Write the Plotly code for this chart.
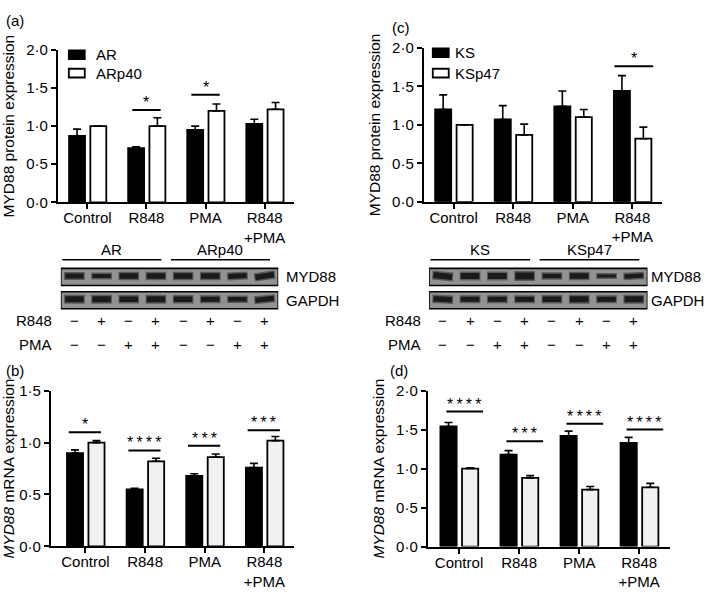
import plotly.graph_objects as go

W, H = 709, 599
FONT = "Liberation Sans, Arial, Helvetica, sans-serif"
FS = 15

# ---------------- data ----------------
categories = ["Control", "R848", "PMA", "R848<br>+PMA"]

# (a) MYD88 protein, AR vs ARp40
a_names = ["AR", "ARp40"]
a_dark = [0.87, 0.71, 0.95, 1.03]
a_dark_err = [0.09, 0.02, 0.05, 0.06]
a_light = [1.00, 1.00, 1.20, 1.22]
a_light_err = [0.00, 0.11, 0.09, 0.09]
a_sig = ["", "*", "*", ""]
a_sig_y = [None, 1.21, 1.41, None]

# (c) MYD88 protein, KS vs KSp47
c_names = ["KS", "KSp47"]
c_dark = [1.20, 1.07, 1.24, 1.44]
c_dark_err = [0.19, 0.18, 0.20, 0.20]
c_light = [1.00, 0.87, 1.10, 0.82]
c_light_err = [0.00, 0.14, 0.10, 0.15]
c_sig = ["", "", "", "*"]
c_sig_y = [None, None, None, 1.76]

# (b) MYD88 mRNA, AR vs ARp40
b_dark = [0.90, 0.55, 0.68, 0.76]
b_dark_err = [0.03, 0.01, 0.02, 0.04]
b_light = [1.00, 0.82, 0.86, 1.02]
b_light_err = [0.02, 0.03, 0.03, 0.04]
b_sig = ["*", "****", "***", "***"]
b_sig_y = [1.10, 0.925, 0.97, 1.12]

# (d) MYD88 mRNA, KS vs KSp47
d_dark = [1.54, 1.18, 1.42, 1.33]
d_dark_err = [0.05, 0.05, 0.06, 0.07]
d_light = [1.00, 0.88, 0.73, 0.76]
d_light_err = [0.01, 0.03, 0.04, 0.05]
d_sig = ["****", "***", "****", "****"]
d_sig_y = [1.73, 1.35, 1.575, 1.50]

protein_ticks = [0, 0.5, 1.0, 1.5, 2.0]
mrna_ticks_b = [0, 0.5, 1.0, 1.5]
mrna_ticks_d = [0, 0.5, 1.0, 1.5, 2.0]

# western blots (8 lanes)
lanes = [1, 2, 3, 4, 5, 6, 7, 8]
r848_signs = ["−", "+", "−", "+", "−", "+", "−", "+"]
pma_signs = ["−", "−", "+", "+", "−", "−", "+", "+"]
blot_rows = ["MYD88", "GAPDH"]
a_groups = ["AR", "ARp40"]
c_groups = ["KS", "KSp47"]
# band thickness (px) per lane
a_myd88_band = [5.0, 4.0, 5.5, 5.5, 5.5, 5.5, 5.0, 5.5]
a_gapdh_band = [6.0, 6.0, 5.5, 6.0, 5.5, 5.0, 4.5, 5.0]
c_myd88_band = [6.0, 6.0, 6.0, 7.0, 4.5, 5.5, 3.0, 4.5]
c_gapdh_band = [5.5, 5.0, 5.0, 5.0, 5.5, 6.0, 5.0, 6.0]
# band tilt (px, + = right end higher)
a_myd88_tilt = [0, 0, 0, 0, 0, 0, 1, 3]
a_gapdh_tilt = [0, 0, 0, 0, 0, 0, 0, 2]
c_myd88_tilt = [-2, 0, 0, 0, 0, 0, 0, 1]
c_gapdh_tilt = [-1, 0, 0, 0, 0, 0, 0, 0]


def px(x):
    return x / W


def py(y):
    return 1 - y / H


fig = go.Figure()
shapes = []
annotations = []
xs = list(range(len(categories)))

panels = [
    dict(xa="x", ya="y", xd=(56, 293), yd=(42, 199), xr=[-0.5, 3.5], yr=[0, 2.0],
         ticks=protein_ticks, dark=a_dark, dark_err=a_dark_err, light=a_light,
         light_err=a_light_err, names=a_names, light_color="white",
         legend_pos=(67, 47, 19, 92),
         sig=a_sig, sig_y=a_sig_y, sig_off=(-0.24, 0.24),
         title="MYD88 protein expression"),
    dict(xa="x2", ya="y2", xd=(423, 662), yd=(40, 198.5), xr=[-0.5, 3.5], yr=[0, 2.0],
         ticks=protein_ticks, dark=c_dark, dark_err=c_dark_err, light=c_light,
         light_err=c_light_err, names=c_names, light_color="white",
         legend_pos=(432, 45, 21, 452),
         sig=c_sig, sig_y=c_sig_y, sig_off=(-0.3, 0.35),
         title="MYD88 protein expression"),
    dict(xa="x3", ya="y3", xd=(49, 293), yd=(393, 553), xr=[-0.58, 3.5], yr=[0, 1.5],
         ticks=mrna_ticks_b, dark=b_dark, dark_err=b_dark_err, light=b_light,
         light_err=b_light_err, names=a_names, light_color="#f1f1f1", legend_pos=None,
         sig=b_sig, sig_y=b_sig_y, sig_off=(-0.28, 0.26),
         title="<i>MYD88</i> mRNA expression"),
    dict(xa="x4", ya="y4", xd=(427, 670), yd=(392.7, 553.3), xr=[-0.52, 3.515], yr=[0, 2.0],
         ticks=mrna_ticks_d, dark=d_dark, dark_err=d_dark_err, light=d_light,
         light_err=d_light_err, names=c_names, light_color="#f1f1f1", legend_pos=None,
         sig=d_sig, sig_y=d_sig_y, sig_off=(-0.21, 0.40),
         title="<i>MYD88</i> mRNA expression"),
]

BAR_W = 0.27
for p in panels:
    series = [
        (p["dark"], p["dark_err"], "black", p["names"][0], -0.31),
        (p["light"], p["light_err"], p["light_color"], p["names"][1], 0.05),
    ]
    for k, (vals, errs, color, name, off) in enumerate(series):
        fig.add_trace(go.Bar(
            x=xs, y=vals, width=BAR_W, offset=off, name=name,
            xaxis=p["xa"], yaxis=p["ya"],
            marker=dict(color=color, line=dict(color="black", width=1.8)),
            error_y=dict(type="data", array=errs, arrayminus=[0] * len(errs),
                         symmetric=False, color="black", thickness=1.6, width=4),
            showlegend=False, hoverinfo="skip"))
        # legend key (box + series name)
        if p["legend_pos"]:
            lx, ly, dy, tx = p["legend_pos"]
            yc = ly + k * dy
            shapes.append(dict(type="rect", xref="paper", yref="paper",
                               x0=px(lx), x1=px(lx + 16), y0=py(yc - 4.5), y1=py(yc + 4.5),
                               fillcolor=color, line=dict(color="black", width=1.8)))
            annotations.append(dict(xref="paper", yref="paper", x=px(tx), y=py(yc),
                                    text=name, showarrow=False, xanchor="left",
                                    yanchor="middle",
                                    font=dict(size=FS, color="black", family=FONT)))
    # significance bars
    for i, (s, yv) in enumerate(zip(p["sig"], p["sig_y"])):
        if not s:
            continue
        x0, x1 = i + p["sig_off"][0], i + p["sig_off"][1]
        shapes.append(dict(type="line", xref=p["xa"], yref=p["ya"], x0=x0, x1=x1,
                           y0=yv, y1=yv, line=dict(color="black", width=2)))
        annotations.append(dict(xref=p["xa"], yref=p["ya"], x=(x0 + x1) / 2, y=yv,
                                text="\u2009".join(list(s)), showarrow=False,
                                yanchor="bottom", yshift=-3,
                                font=dict(size=16, color="black", family=FONT)))

layout_axes = {}
for p in panels:
    xkey = "xaxis" + p["xa"][1:]
    ykey = "yaxis" + p["ya"][1:]
    layout_axes[xkey] = dict(
        domain=[px(p["xd"][0]), px(p["xd"][1])], range=p["xr"], anchor=p["ya"],
        tickvals=xs, ticktext=categories, showline=True, linecolor="black",
        linewidth=2, ticks="outside", ticklen=5, tickwidth=2, tickcolor="black",
        ticklabelstandoff=-4,
        showgrid=False, zeroline=False, fixedrange=True,
        tickfont=dict(size=FS, color="black", family=FONT))
    layout_axes[ykey] = dict(
        domain=[py(p["yd"][1]), py(p["yd"][0])], range=p["yr"], anchor=p["xa"],
        tickvals=p["ticks"], ticktext=[f"{t:.1f}".replace(".", "\u00b7") for t in p["ticks"]],
        showline=True, linecolor="black", linewidth=2, ticks="outside", ticklen=5,
        tickwidth=2, tickcolor="black", showgrid=False, zeroline=False, fixedrange=True,
        tickfont=dict(size=FS, color="black", family=FONT),
        title=dict(text=p["title"], standoff=8,
                   font=dict(size=15.5, color="black", family=FONT)))

# ---------------- western blots ----------------
blots = [
    dict(xa="x5", ya="y5", xd=(59, 277), groups=a_groups,
         bands=[a_myd88_band, a_gapdh_band], tilts=[a_myd88_tilt, a_gapdh_tilt],
         label_shift=6, row_right=52),
    dict(xa="x6", ya="y6", xd=(428.3, 647.3), groups=c_groups,
         bands=[c_myd88_band, c_gapdh_band], tilts=[c_myd88_tilt, c_gapdh_tilt],
         label_shift=2, row_right=422),
]
BLOT_TOP, BLOT_BOTTOM = 235, 355          # pixel span of the blot area
row_boxes = [(32, 49.5), (56, 73.5)]      # in blot y-units (px below BLOT_TOP)
GROUP_LABEL_Y, GROUP_LINE_Y = 13, 23
SIGN_ROWS_Y = [85.7, 110.7]

for b in blots:
    xkey = "xaxis" + b["xa"][1:]
    ykey = "yaxis" + b["ya"][1:]
    layout_axes[xkey] = dict(domain=[px(b["xd"][0]), px(b["xd"][1])],
                             range=[0.5, len(lanes) + 0.5], anchor=b["ya"],
                             visible=False, fixedrange=True)
    layout_axes[ykey] = dict(domain=[py(BLOT_BOTTOM), py(BLOT_TOP)],
                             range=[BLOT_BOTTOM - BLOT_TOP, 0], anchor=b["xa"],
                             visible=False, fixedrange=True)
    n_per = len(lanes) // len(b["groups"])
    for g, gname in enumerate(b["groups"]):
        first, last = lanes[g * n_per], lanes[g * n_per + n_per - 1]
        x0, x1 = first - 0.45, last + 0.2
        shapes.append(dict(type="line", xref=b["xa"], yref=b["ya"], x0=x0, x1=x1,
                           y0=GROUP_LINE_Y, y1=GROUP_LINE_Y,
                           line=dict(color="black", width=1.5)))
        annotations.append(dict(xref=b["xa"], yref=b["ya"], x=(x0 + x1) / 2,
                                y=GROUP_LABEL_Y, text=gname, showarrow=False,
                                yanchor="middle",
                                font=dict(size=FS, color="black", family=FONT)))
    for r, rname in enumerate(blot_rows):
        y0, y1 = row_boxes[r]
        shapes.append(dict(type="rect", xref=b["xa"], yref=b["ya"], x0=0.5,
                           x1=len(lanes) + 0.5, y0=y0, y1=y1, layer="below",
                           fillcolor="#929292", line=dict(color="black", width=1.6)))
        annotations.append(dict(xref=b["xa"], yref=b["ya"], x=len(lanes) + 0.5,
                                y=(y0 + y1) / 2, text=rname, showarrow=False,
                                xanchor="left", yanchor="middle", xshift=b["label_shift"],
                                font=dict(size=FS, color="black", family=FONT)))
        yc = (y0 + y1) / 2 - 1
        for ln, thick, tilt in zip(lanes, b["bands"][r], b["tilts"][r]):
            yy = [yc + tilt / 2, yc - tilt / 2]
            fig.add_trace(go.Scatter(x=[ln - 0.38, ln + 0.38], y=yy, mode="lines",
                                     xaxis=b["xa"], yaxis=b["ya"], showlegend=False,
                                     hoverinfo="skip",
                                     line=dict(color="#5a5a5a", width=thick + 3)))
            fig.add_trace(go.Scatter(x=[ln - 0.34, ln + 0.34], y=yy, mode="lines",
                                     xaxis=b["xa"], yaxis=b["ya"], showlegend=False,
                                     hoverinfo="skip",
                                     line=dict(color="#1a1a1a", width=thick)))
    for rowname, signs, yrow in [("R848", r848_signs, SIGN_ROWS_Y[0]),
                                 ("PMA", pma_signs, SIGN_ROWS_Y[1])]:
        annotations.append(dict(xref="paper", yref=b["ya"], x=px(b["row_right"]),
                                y=yrow, text=rowname, showarrow=False,
                                xanchor="right", yanchor="middle",
                                font=dict(size=FS, color="black", family=FONT)))
        for ln, s in zip(lanes, signs):
            annotations.append(dict(xref=b["xa"], yref=b["ya"], x=ln, y=yrow, text=s,
                                    showarrow=False, yanchor="middle",
                                    font=dict(size=FS, color="black", family=FONT)))

# panel letters
for letter, (lx, ly) in zip(["(a)", "(c)", "(b)", "(d)"],
                            [(2, 12), (389, 19), (2, 372), (387, 372)]):
    annotations.append(dict(xref="paper", yref="paper", x=px(lx), y=py(ly),
                            text=letter, showarrow=False, xanchor="left",
                            yanchor="middle",
                            font=dict(size=FS, color="black", family=FONT)))

fig.update_layout(
    width=W, height=H, margin=dict(l=0, r=0, t=0, b=0),
    paper_bgcolor="white", plot_bgcolor="rgba(0,0,0,0)",
    barmode="overlay", font=dict(family=FONT, size=FS, color="black"),
    showlegend=False, shapes=shapes, annotations=annotations,
    **layout_axes,
)

fig.write_html("out.html", config={"displayModeBar": False},
               post_script="document.body.style.margin='0';")
